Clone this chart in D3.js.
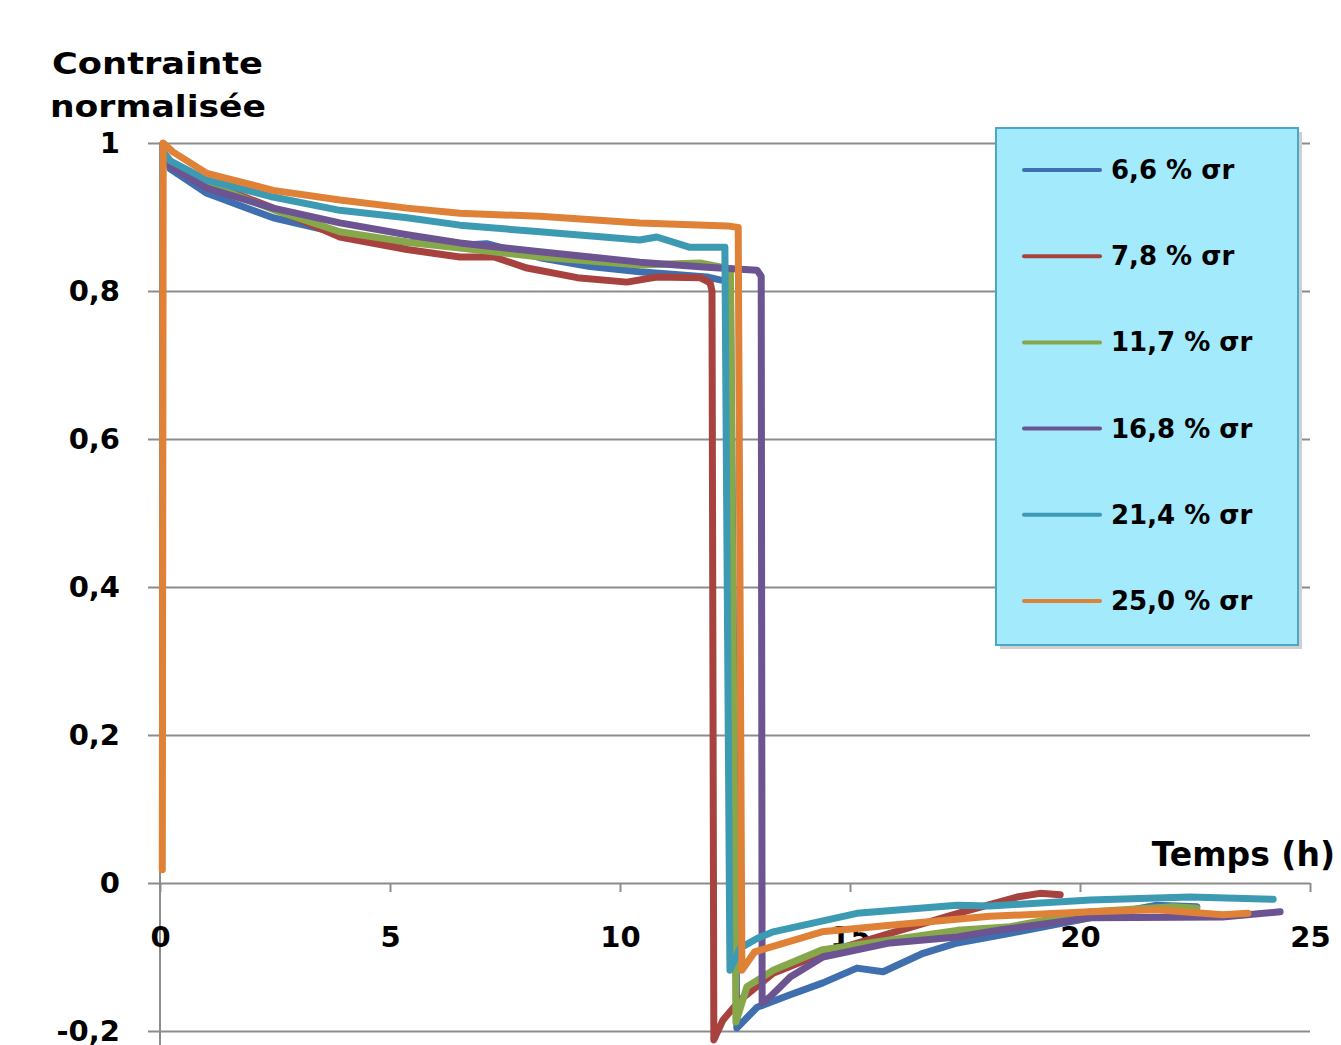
<!DOCTYPE html>
<html>
<head>
<meta charset="utf-8">
<script src="https://cdnjs.cloudflare.com/ajax/libs/d3/7.8.5/d3.min.js"></script>
<style>
  body { margin: 0; background: #fff; }
  svg { display: block; }
  text { font-family: "DejaVu Sans", Verdana, sans-serif; font-weight: bold; }
</style>
</head>
<body>
<svg id="chart" width="1341" height="1045"></svg>
<script>
// tick values
const xTicks = [0, 5, 10, 15, 20, 25];
const yTicks = [-0.2, 0, 0.2, 0.4, 0.6, 0.8, 1];

const seriesLabels = ["6,6 % σr", "7,8 % σr", "11,7 % σr", "16,8 % σr", "21,4 % σr", "25,0 % σr"];
const seriesColors = ["#3f6fae", "#a8423f", "#87a84a", "#6b5491", "#3d9ab3", "#df8136"];

// [temps (h), contrainte normalisée]
const s66 = [[0.1, 0.985], [0.22, 0.965], [1.02, 0.932], [2.46, 0.899], [3.91, 0.878], [5.37, 0.866],
  [6.52, 0.862], [7.1, 0.864], [8.26, 0.845], [9.35, 0.833], [10.43, 0.826], [11.89, 0.819],
  [12.17, 0.815], [12.4, 0.813], [12.54, -0.196], [12.98, -0.168], [13.7, -0.151], [14.41, -0.135],
  [15.15, -0.115], [15.72, -0.12], [16.59, -0.095], [17.33, -0.081], [18.48, -0.068], [20.22, -0.047],
  [21.67, -0.030], [22.54, -0.032]];
const s78 = [[0.1, 0.985], [0.3, 0.97], [1.02, 0.947], [2.46, 0.912], [3.91, 0.873], [5.37, 0.856],
  [6.52, 0.846], [7.26, 0.846], [7.98, 0.831], [9.07, 0.818], [10.15, 0.812], [10.8, 0.819],
  [11.74, 0.818], [11.96, 0.811], [12.0, 0.80], [12.04, -0.212], [12.24, -0.185], [12.61, -0.158],
  [13.33, -0.122], [14.41, -0.095], [15.87, -0.068], [17.4, -0.04], [18.63, -0.019], [19.13, -0.014],
  [19.57, -0.016]];
const s117 = [[0.1, 0.985], [0.22, 0.97], [1.02, 0.945], [2.46, 0.91], [3.91, 0.88], [5.37, 0.866],
  [6.52, 0.858], [8.26, 0.846], [10.43, 0.835], [11.74, 0.838], [12.24, 0.832], [12.4, 0.83],
  [12.52, -0.188], [12.76, -0.14], [13.33, -0.118], [14.41, -0.090], [15.87, -0.077], [17.33, -0.064],
  [18.48, -0.059], [20.22, -0.039], [22.02, -0.032], [22.54, -0.034]];
const s168 = [[0.1, 0.985], [0.22, 0.969], [1.02, 0.939], [2.46, 0.912], [3.91, 0.892], [5.37, 0.876],
  [6.52, 0.865], [8.26, 0.853], [10.43, 0.839], [11.89, 0.832], [12.98, 0.828], [13.07, 0.82],
  [13.09, -0.162], [13.26, -0.154], [13.7, -0.127], [14.41, -0.100], [15.87, -0.081], [17.33, -0.073],
  [18.3, -0.063], [20.22, -0.047], [23.1, -0.046], [24.35, -0.039]];
const s214 = [[0.1, 0.985], [0.22, 0.976], [1.02, 0.950], [2.46, 0.927], [3.91, 0.909], [5.37, 0.899],
  [6.52, 0.889], [8.26, 0.880], [10.43, 0.869], [10.8, 0.873], [11.52, 0.859], [12.28, 0.859],
  [12.39, -0.118], [12.61, -0.088], [12.98, -0.075], [13.33, -0.066], [15.15, -0.041], [17.33, -0.030],
  [18.04, -0.031], [20.22, -0.023], [22.39, -0.019], [24.2, -0.022]];
const s250 = [[0.05, 0.018], [0.07, 1.0], [0.28, 0.988], [1.02, 0.959], [2.46, 0.936], [3.91, 0.923],
  [5.37, 0.912], [6.52, 0.905], [8.26, 0.901], [10.43, 0.892], [12.33, 0.888], [12.57, 0.886],
  [12.65, -0.118], [12.93, -0.093], [14.39, -0.066], [15.87, -0.057], [18.04, -0.045], [20.22, -0.039],
  [21.67, -0.036], [23.1, -0.043], [23.65, -0.041]];

const allSeries = [s66, s78, s117, s168, s214, s250];

let svg = d3.select("#chart");

let x = d3.scaleLinear().domain([0, 25]).range([160, 1310]);
let y = d3.scaleLinear().domain([-0.2, 1]).range([1031, 143]);

let fr = d3.formatLocale({decimal: ",", thousands: " ", grouping: [3], currency: ["", " €"], minus: "-"});

// bottom of the slide title, cut off by the frame
svg.append("text")
  .attr("x", -6).attr("y", -1)
  .attr("fill", "#1f4e8c")
  .style("font-size", "58px")
  .text("Essais de relaxation à chaud");

// gridlines + y labels
let gy = svg.append("g")
  .attr("transform", `translate(${x(0)},0)`)
  .call(d3.axisLeft(y).tickValues(yTicks).tickSize(-(x(25) - x(0))).tickPadding(40).tickFormat(fr.format("~g")));
gy.select(".domain").remove();
gy.selectAll(".tick line").attr("x1", -12).attr("stroke", "#8c8c8c").attr("stroke-width", 2);
gy.selectAll(".tick text").style("font-size", "29px").style("font-family", "DejaVu Sans").attr("fill", "#000");

// vertical axis line
svg.append("line")
  .attr("x1", x(0)).attr("x2", x(0))
  .attr("y1", y(1) - 1).attr("y2", 1045)
  .attr("stroke", "#8c8c8c").attr("stroke-width", 2);

// x axis ticks and labels
let gx = svg.append("g")
  .attr("transform", `translate(0,${y(0)})`)
  .call(d3.axisBottom(x).tickValues(xTicks).tickSize(9).tickPadding(34).tickFormat(d3.format("d")));
gx.select(".domain").remove();
gx.selectAll(".tick line").attr("stroke", "#8c8c8c").attr("stroke-width", 2);
gx.selectAll(".tick text").style("font-size", "29px").style("font-family", "DejaVu Sans").attr("fill", "#000");

// curves
let line = d3.line().x(d => x(d[0])).y(d => y(d[1]));
svg.append("g").selectAll("path")
  .data(allSeries)
  .join("path")
  .attr("d", d => line(d))
  .attr("fill", "none")
  .attr("stroke", (d, i) => seriesColors[i])
  .attr("stroke-width", 7)
  .attr("stroke-linejoin", "round")
  .attr("stroke-linecap", "round");

// axis titles
svg.append("text").attr("x", 52).attr("y", 74)
  .attr("textLength", 211).attr("lengthAdjust", "spacingAndGlyphs")
  .style("font-size", "31px").text("Contrainte");
svg.append("text").attr("x", 50).attr("y", 117)
  .attr("textLength", 216).attr("lengthAdjust", "spacingAndGlyphs")
  .style("font-size", "31px").text("normalisée");
svg.append("text").attr("x", 1335).attr("y", 866)
  .attr("text-anchor", "end")
  .style("font-size", "33px").text("Temps (h)");

// legend
let lg = svg.append("g").attr("transform", "translate(996,128)");
lg.append("rect").attr("x", 4).attr("y", 4).attr("width", 302).attr("height", 517).attr("fill", "#d0d0d0");
lg.append("rect").attr("width", 302).attr("height", 517)
  .attr("fill", "#a2eafc").attr("stroke", "#4aa8c4").attr("stroke-width", 2);
let items = lg.selectAll("g.item")
  .data(seriesLabels)
  .join("g")
  .attr("class", "item")
  .attr("transform", (d, i) => `translate(0,${42 + i * 86.2})`);
items.append("line")
  .attr("x1", 28).attr("x2", 104)
  .attr("stroke", (d, i) => seriesColors[i])
  .attr("stroke-width", 4).attr("stroke-linecap", "round");
items.append("text")
  .attr("x", 115).attr("y", 9)
  .style("font-size", "26px")
  .text(d => d);
</script>
</body>
</html>
